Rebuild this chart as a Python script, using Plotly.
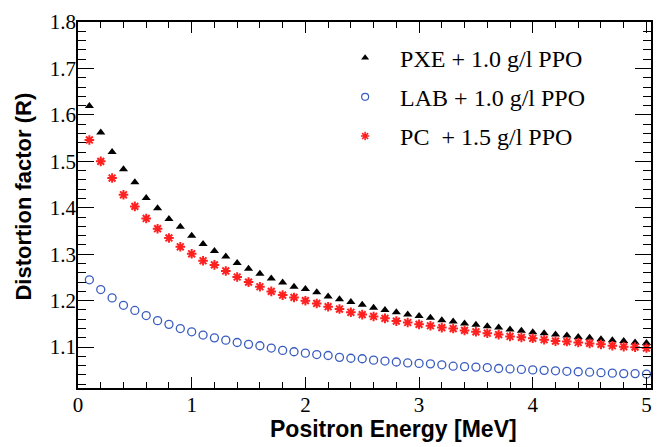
import plotly.graph_objects as go

# Positron energy bins [MeV]
energy = [0.1, 0.2, 0.3, 0.4, 0.5, 0.6, 0.7, 0.8, 0.9, 1.0,
          1.1, 1.2, 1.3, 1.4, 1.5, 1.6, 1.7, 1.8, 1.9, 2.0,
          2.1, 2.2, 2.3, 2.4, 2.5, 2.6, 2.7, 2.8, 2.9, 3.0,
          3.1, 3.2, 3.3, 3.4, 3.5, 3.6, 3.7, 3.8, 3.9, 4.0,
          4.1, 4.2, 4.3, 4.4, 4.5, 4.6, 4.7, 4.8, 4.9, 5.0]

# Distortion factor R per scintillator
pxe = [1.619, 1.562, 1.520, 1.483, 1.455, 1.421, 1.399, 1.376, 1.359, 1.340,
       1.322, 1.307, 1.295, 1.281, 1.269, 1.258, 1.248, 1.239, 1.230, 1.225,
       1.218, 1.209, 1.203, 1.197, 1.191, 1.185, 1.180, 1.175, 1.170, 1.167,
       1.163, 1.158, 1.155, 1.151, 1.148, 1.145, 1.142, 1.138, 1.135, 1.132,
       1.130, 1.127, 1.125, 1.122, 1.120, 1.117, 1.115, 1.113, 1.110, 1.109]

lab = [1.245, 1.224, 1.206, 1.190, 1.179, 1.168, 1.157, 1.149, 1.140, 1.133,
       1.126, 1.120, 1.115, 1.110, 1.106, 1.103, 1.098, 1.093, 1.090, 1.087,
       1.084, 1.082, 1.078, 1.076, 1.075, 1.072, 1.070, 1.068, 1.066, 1.065,
       1.064, 1.062, 1.059, 1.058, 1.057, 1.056, 1.054, 1.053, 1.052, 1.051,
       1.050, 1.049, 1.048, 1.047, 1.046, 1.045, 1.044, 1.043, 1.043, 1.042]

pc = [1.546, 1.500, 1.464, 1.428, 1.403, 1.377, 1.355, 1.335, 1.316, 1.301,
      1.286, 1.277, 1.264, 1.251, 1.240, 1.230, 1.220, 1.212, 1.207, 1.200,
      1.194, 1.187, 1.182, 1.175, 1.170, 1.166, 1.162, 1.156, 1.153, 1.149,
      1.146, 1.142, 1.140, 1.136, 1.133, 1.130, 1.127, 1.123, 1.121, 1.119,
      1.116, 1.113, 1.112, 1.110, 1.108, 1.106, 1.103, 1.101, 1.100, 1.098]

labels = ["PXE + 1.0 g/l PPO", "LAB + 1.0 g/l PPO", "PC\u00a0 + 1.5 g/l PPO"]

BLUE = "#3a5cc0"
RED = "#ff2020"

SERIES = [
    (pxe, labels[0], dict(symbol="triangle-up", color="black", size=8, line=dict(width=0))),
    (lab, labels[1], dict(symbol="circle-open", color=BLUE, size=8, line=dict(color=BLUE, width=1.3))),
    (pc, labels[2], dict(symbol="asterisk-open", color=RED, size=8, line=dict(color=RED, width=2))),
]
LEGEND_MARKERS = [
    dict(symbol="triangle-up", color="black", size=7, line=dict(width=0)),
    dict(symbol="circle-open", color=BLUE, size=7, line=dict(color=BLUE, width=1.2)),
    dict(symbol="asterisk-open", color=RED, size=7, line=dict(color=RED, width=1.6)),
]

fig = go.Figure()

for (vals, name, mk), lmk in zip(SERIES, LEGEND_MARKERS):
    fig.add_trace(go.Scatter(x=energy, y=vals, mode="markers", marker=mk,
                             name=name, showlegend=False, legendgroup=name))
    # legend-only twin with a smaller key symbol
    fig.add_trace(go.Scatter(x=[None], y=[None], mode="markers", marker=lmk,
                             name=name, legendgroup=name))

axis_common = dict(
    showline=True, linecolor="black", linewidth=1.5, mirror="allticks",
    ticks="inside", tickcolor="black", tickwidth=1,
    showgrid=False, zeroline=False,
    tickfont=dict(family="Liberation Serif", size=21, color="black"),
)

fig.update_xaxes(range=[0, 5.04], dtick=1, tick0=0, ticklen=11, ticklabelstandoff=-3,
                 minor=dict(dtick=0.2, ticklen=6, ticks="inside", tickcolor="black", showgrid=False),
                 **axis_common)
fig.update_yaxes(range=[1.012, 1.8], dtick=0.1, tick0=1.0, ticklen=16, tickformat=".1f",
                 ticklabelstandoff=-4,
                 minor=dict(dtick=0.02, ticklen=8, ticks="inside", tickcolor="black", showgrid=False),
                 **axis_common)

fig.add_annotation(text="<b>Positron Energy [MeV]</b>", xref="paper", yref="paper",
                   x=0.77, y=-0.113, xanchor="right", yanchor="middle", showarrow=False,
                   font=dict(family="Liberation Sans", size=23, color="black"))
fig.add_annotation(text="<b>Distortion factor (R)</b>", xref="paper", yref="paper",
                   x=-0.095, y=0.522, xanchor="center", yanchor="middle", textangle=-90,
                   showarrow=False, font=dict(family="Liberation Sans", size=22, color="black"))

fig.update_layout(
    width=663, height=447,
    margin=dict(l=78, r=10, t=18, b=59),
    plot_bgcolor="white", paper_bgcolor="white",
    legend=dict(x=0.44, y=0.963, xanchor="left", yanchor="top", itemwidth=60,
                font=dict(family="Liberation Serif", size=24, color="black"),
                bgcolor="rgba(0,0,0,0)", tracegroupgap=5, traceorder="grouped"),
)

fig.write_html("out.html", config={"displayModeBar": False},
               post_script="document.body.style.margin='0';")
